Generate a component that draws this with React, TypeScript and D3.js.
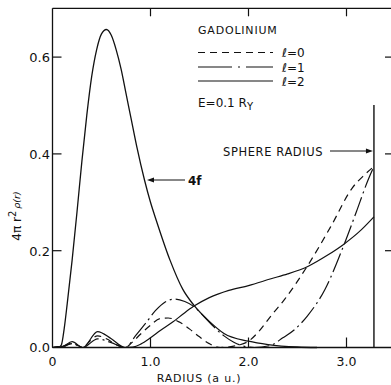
import React from "react";
import * as d3 from "d3";

const W = 391;
const H = 385;

// 4f density
const f4R = [0.06, 0.09, 0.12, 0.15, 0.2, 0.25, 0.3, 0.35, 0.4, 0.45, 0.5, 0.55, 0.6, 0.65, 0.7, 0.75, 0.8, 0.86, 0.94, 1.0, 1.06, 1.2, 1.33, 1.44, 1.6, 1.75, 2.0, 2.2, 2.5, 2.7];
const f4V = [0, 0.005, 0.04, 0.09, 0.18, 0.28, 0.385, 0.48, 0.56, 0.615, 0.648, 0.657, 0.645, 0.615, 0.575, 0.525, 0.475, 0.415, 0.345, 0.3, 0.262, 0.18, 0.12, 0.088, 0.054, 0.029, 0.013, 0.006, 0.001, 0];

// l = 0 (dashed)
const l0R = [0, 0.05, 0.1, 0.2, 0.31, 0.38, 0.46, 0.55, 0.65, 0.74, 0.82, 0.9, 1.0, 1.1, 1.18, 1.3, 1.4, 1.5, 1.6, 1.71, 1.85, 2.0, 2.1, 2.22, 2.37, 2.6, 2.84, 3.06, 3.18, 3.28];
const l0V = [0, 0.002, 0.001, 0.009, 0, 0.013, 0.024, 0.018, 0.006, 0, 0.012, 0.028, 0.046, 0.06, 0.061, 0.052, 0.038, 0.022, 0.008, 0, 0.003, 0.013, 0.032, 0.063, 0.1, 0.168, 0.25, 0.33, 0.356, 0.374];

// l = 1 (dash-dot)
const l1R = [0, 0.1, 0.2, 0.31, 0.46, 0.6, 0.74, 0.85, 0.95, 1.05, 1.15, 1.25, 1.35, 1.44, 1.55, 1.65, 1.75, 1.85, 1.95, 2.06, 2.22, 2.35, 2.47, 2.6, 2.78, 2.97, 3.1, 3.22, 3.28];
const l1V = [0, 0.002, 0.008, 0, 0.018, 0.01, 0, 0.025, 0.05, 0.076, 0.094, 0.1, 0.095, 0.085, 0.063, 0.042, 0.024, 0.011, 0.003, 0, 0.004, 0.02, 0.037, 0.065, 0.12, 0.21, 0.28, 0.346, 0.374];

// l = 2 (solid)
const l2R = [0, 0.1, 0.2, 0.31, 0.46, 0.6, 0.74, 0.82, 0.9, 1.0, 1.1, 1.23, 1.35, 1.44, 1.6, 1.8, 2.0, 2.23, 2.4, 2.61, 2.8, 2.97, 3.15, 3.28];
const l2V = [0, 0.002, 0.012, 0, 0.033, 0.018, 0, 0.001, 0.007, 0.02, 0.035, 0.053, 0.072, 0.085, 0.103, 0.118, 0.128, 0.142, 0.152, 0.168, 0.19, 0.213, 0.243, 0.27];

const xTicks = [0, 1, 2, 3];
const xTickLabels = ["0", "1.0", "2.0", "3.0"];
const yTicks = [0, 0.2, 0.4, 0.6];
const yTickLabels = ["0.0", "0.2", "0.4", "0.6"];
const sphereR = 3.28;

const FONT = "'DejaVu Sans', sans-serif";
const INK = "#111";

export default function App() {
  const x = d3.scaleLinear().domain([0, 3]).range([52.5, 346.5]);
  const y = d3.scaleLinear().domain([0, 0.7]).range([347.5, 8.7]);
  const left = 52.5;
  const right = W;
  const top = 8.3;
  const bottom = y(0);

  const line = (rs: number[], vs: number[]) =>
    d3
      .line<number>()
      .x((_, i) => x(rs[i]))
      .y((v) => y(v))
      .curve(d3.curveMonotoneX)(vs) as string;

  const arrowLeft = (px: number, py: number) =>
    `M${px},${py} L${px + 7},${py - 2.5} L${px + 7},${py + 2.5} Z`;
  const arrowRight = (px: number, py: number) =>
    `M${px},${py} L${px - 7},${py - 2.5} L${px - 7},${py + 2.5} Z`;

  const sx = x(sphereR);

  return (
    <svg
      width={W}
      height={H}
      style={{ position: "absolute", left: 0, top: 0, background: "#fff" }}
    >
      <rect x={0} y={0} width={W} height={H} fill="#fff" />
      {/* frame */}
      <line x1={left} y1={top} x2={left} y2={bottom} stroke={INK} strokeWidth={1.3} />
      <line x1={left} y1={bottom} x2={right} y2={bottom} stroke={INK} strokeWidth={1.5} />
      <line x1={left} y1={top} x2={right} y2={top} stroke={INK} strokeWidth={1.2} />

      {/* y ticks */}
      {yTicks.map((t, i) => (
        <g key={"y" + i}>
          {t > 0 && <line x1={left} x2={left + 9} y1={y(t)} y2={y(t)} stroke={INK} strokeWidth={1.2} />}
          {t > 0 && <line x1={385} x2={391} y1={y(t)} y2={y(t)} stroke={INK} strokeWidth={1.2} />}
          <text x={50} y={y(t) + 4.8} textAnchor="end" fontFamily={FONT} fontSize={13} fill={INK}>
            {yTickLabels[i]}
          </text>
        </g>
      ))}

      {/* x ticks */}
      {xTicks.map((t, i) => (
        <g key={"x" + i}>
          {t > 0 && <line x1={x(t)} x2={x(t)} y1={bottom} y2={bottom - 10} stroke={INK} strokeWidth={1.2} />}
          {t > 0 && <line x1={x(t)} x2={x(t)} y1={top} y2={top + 8} stroke={INK} strokeWidth={1.2} />}
          <text x={x(t)} y={366} textAnchor="middle" fontFamily={FONT} fontSize={12.5} fill={INK}>
            {xTickLabels[i]}
          </text>
        </g>
      ))}

      {/* axis titles */}
      <text x={199} y={382} textAnchor="middle" fontFamily={FONT} fontSize={11} letterSpacing={0.8} fill={INK}>
        RADIUS{"  "}(a u.)
      </text>
      <text transform="translate(21,216) rotate(-90)" textAnchor="middle" fontFamily={FONT} fontSize={12} fill={INK}>
        4π r<tspan dy={-5} fontSize={10}>2</tspan>
        <tspan dy={4} dx={2} fontSize={9.5} fontStyle="italic">ρ(r)</tspan>
      </text>

      {/* curves */}
      <path d={line(f4R, f4V)} fill="none" stroke={INK} strokeWidth={1.3} />
      <path d={line(l0R, l0V)} fill="none" stroke={INK} strokeWidth={1.2} strokeDasharray="7,5" />
      <path d={line(l1R, l1V)} fill="none" stroke={INK} strokeWidth={1.2} strokeDasharray="20,4,2,4" />
      <path d={line(l2R, l2V)} fill="none" stroke={INK} strokeWidth={1.2} />

      {/* sphere radius */}
      <line x1={sx} x2={sx} y1={105} y2={bottom} stroke={INK} strokeWidth={1.4} />
      <text x={223} y={156} fontFamily={FONT} fontSize={11.5} letterSpacing={0.6} fill={INK}>
        SPHERE RADIUS
      </text>
      <line x1={330} x2={sx - 4} y1={151} y2={151} stroke={INK} strokeWidth={1} />
      <path d={arrowRight(sx - 1, 151)} fill={INK} />

      {/* 4f label */}
      <text x={188} y={185} fontFamily={FONT} fontSize={12} fontWeight="bold" fill={INK}>
        4f
      </text>
      <line x1={150} x2={185} y1={180} y2={180} stroke={INK} strokeWidth={1} />
      <path d={arrowLeft(147, 180)} fill={INK} />

      {/* legend */}
      <text x={198} y={34} fontFamily={FONT} fontSize={11} letterSpacing={0.8} fill={INK}>
        GADOLINIUM
      </text>
      <line x1={198} x2={273} y1={52.5} y2={52.5} stroke={INK} strokeWidth={1.1} strokeDasharray="7,5" />
      <line x1={198} x2={273} y1={67} y2={67} stroke={INK} strokeWidth={1.1} strokeDasharray="34,6,2,6" />
      <line x1={198} x2={273} y1={81} y2={81} stroke={INK} strokeWidth={1.1} />
      <text x={282} y={57} fontFamily={FONT} fontSize={12} fill={INK}>ℓ=0</text>
      <text x={282} y={71.5} fontFamily={FONT} fontSize={12} fill={INK}>ℓ=1</text>
      <text x={282} y={86} fontFamily={FONT} fontSize={12} fill={INK}>ℓ=2</text>
      <text x={198} y={107} fontFamily={FONT} fontSize={12} fill={INK}>
        E=0.1 R<tspan dy={3} fontSize={10}>Y</tspan>
      </text>
    </svg>
  );
}
